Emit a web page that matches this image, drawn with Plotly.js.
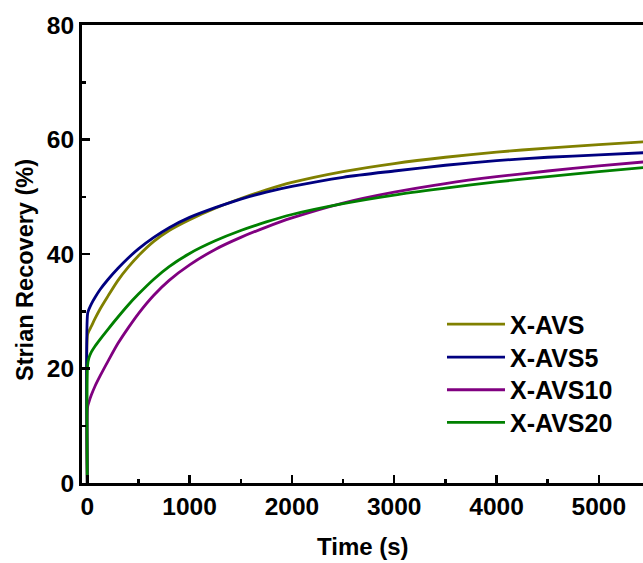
<!DOCTYPE html>
<html>
<head>
<meta charset="utf-8">
<script src="https://cdn.plot.ly/plotly-3.0.1.min.js"></script>
<style>html,body{margin:0;padding:0;background:#fff;}#chart{width:643px;height:563px;}</style>
</head>
<body>
<div id="chart"></div>
<script>
const time = [0, 3, 15, 40, 75, 125, 200, 300, 400, 500, 650, 800, 1000, 1250, 1500, 1750, 2000, 2500, 3000, 3500, 4000, 4500, 5000, 5450];
const seriesNames = ["X-AVS", "X-AVS5", "X-AVS10", "X-AVS20"];
const xavs   = [0, 26.0, 26.5, 27.4, 28.7, 30.4, 32.6, 35.4, 37.7, 39.7, 42.2, 44.1, 46.0, 48.0, 49.7, 51.2, 52.5, 54.4, 55.8, 56.9, 57.8, 58.5, 59.1, 59.6];
const xavs5  = [0, 29.6, 30.3, 31.3, 32.4, 33.8, 35.5, 37.5, 39.3, 40.9, 42.9, 44.6, 46.4, 48.1, 49.6, 50.8, 51.8, 53.4, 54.5, 55.5, 56.3, 56.9, 57.3, 57.7];
const xavs10 = [0, 13.3, 14.1, 15.4, 16.9, 18.7, 21.2, 24.4, 27.1, 29.6, 32.8, 35.4, 38.1, 40.8, 42.9, 44.7, 46.3, 48.9, 50.8, 52.3, 53.5, 54.5, 55.4, 56.1];
const xavs20 = [0, 20.6, 21.8, 22.9, 23.9, 25.1, 26.8, 29.0, 31.1, 33.0, 35.6, 37.8, 40.1, 42.3, 44.1, 45.6, 46.9, 48.8, 50.3, 51.5, 52.6, 53.5, 54.4, 55.1];
const colors = ["#808000", "#000080", "#800080", "#008000"];
const xTicks = [0, 1000, 2000, 3000, 4000, 5000];
const yTicks = [0, 20, 40, 60, 80];
const legendIds = ["legend", "legend2", "legend3", "legend4"];
const legendY = [0.3465, 0.2745, 0.2031, 0.1317];

const ys = [xavs, xavs5, xavs10, xavs20];
const traces = ys.map((y, i) => ({
  x: time, y: y, type: 'scatter', mode: 'lines', name: seriesNames[i],
  line: {color: colors[i], width: 2.8, shape: 'spline', smoothing: 0.8},
  legend: legendIds[i]
}));

const fam = 'Arial, "Liberation Sans", sans-serif';
const tickFont = {family: fam, size: 24.5, color: '#000', weight: 'bold'};

const layout = {
  width: 643, height: 563,
  margin: {l: 82, r: 0, t: 25, b: 80},
  paper_bgcolor: '#fff', plot_bgcolor: '#fff',
  font: {family: fam, color: '#000'},
  showlegend: true,
  xaxis: {
    range: [-52, 5432], tickvals: xTicks, ticktext: xTicks.map(String),
    showgrid: false, zeroline: false,
    showline: true, linecolor: '#000', linewidth: 3, mirror: true,
    ticks: 'inside', ticklen: 8, tickwidth: 2.5, tickcolor: '#000',
    minor: {dtick: 500, tick0: 500, ticks: 'inside', ticklen: 4, tickwidth: 2.5, tickcolor: '#000', showgrid: false},
    tickfont: tickFont
  },
  yaxis: {
    range: [0, 80], tickvals: yTicks, ticktext: yTicks.map(String),
    showgrid: false, zeroline: false,
    showline: true, linecolor: '#000', linewidth: 3, mirror: false,
    ticks: 'inside', ticklen: 8, tickwidth: 2.5, tickcolor: '#000',
    minor: {dtick: 10, tick0: 10, ticks: 'inside', ticklen: 4, tickwidth: 2.5, tickcolor: '#000', showgrid: false},
    tickfont: tickFont
  },
  annotations: [
    {text: 'Time (s)', xref: 'paper', yref: 'paper', x: 0.5, y: -0.1397, xanchor: 'center', yanchor: 'middle',
     showarrow: false, font: {family: fam, size: 24, color: '#000', weight: 'bold'}},
    {text: 'Strian Recovery (%)', xref: 'paper', yref: 'paper', x: -0.1016, y: 0.465, xanchor: 'center', yanchor: 'middle',
     textangle: -90, showarrow: false, font: {family: fam, size: 23.5, color: '#000', weight: 'bold'}}
  ]
};
legendIds.forEach((id, i) => {
  layout[id] = {
    x: 0.6417, y: legendY[i], xanchor: 'left', yanchor: 'middle',
    bgcolor: 'rgba(0,0,0,0)', borderwidth: 0, itemwidth: 58,
    font: {family: fam, size: 25, color: '#000', weight: 'bold'}
  };
});

Plotly.newPlot('chart', traces, layout, {displayModeBar: false, staticPlot: true});
</script>
</body>
</html>
